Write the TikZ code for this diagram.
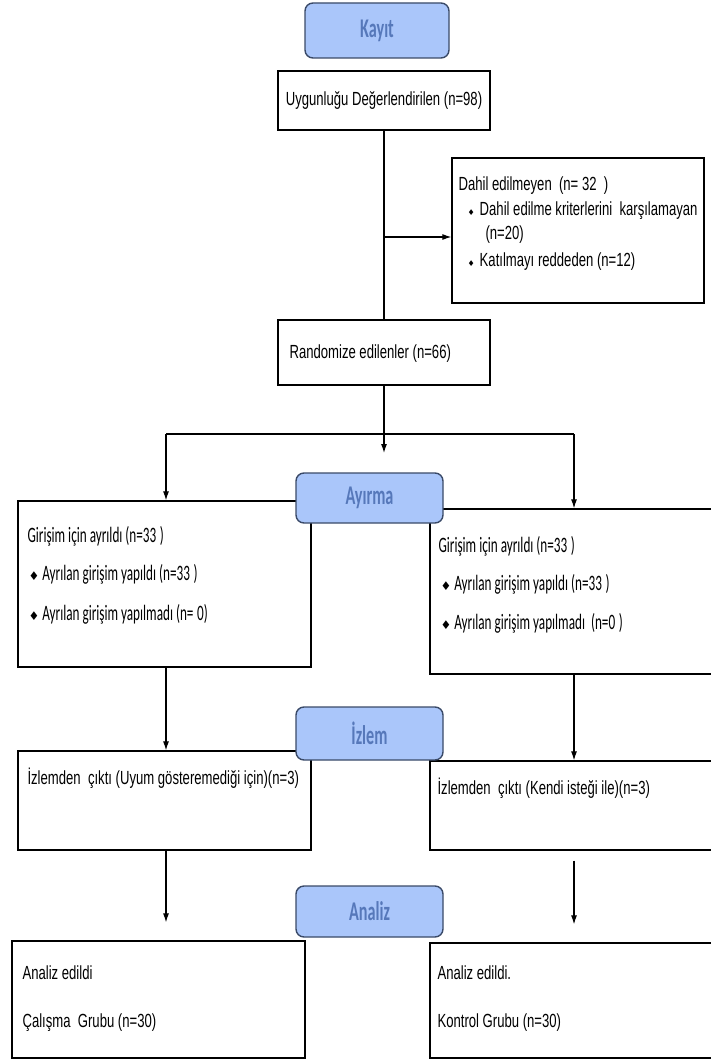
\documentclass[tikz,border=0pt]{standalone}
\usepackage{fontspec}
\setmainfont[FakeStretch=0.69]{Liberation Sans}
\newfontfamily\calfont[FakeStretch=0.6]{Carlito}
\newfontfamily\stagefont[FakeStretch=0.6]{Carlito}
\newfontfamily\symfont{DejaVu Sans}
\usetikzlibrary{arrows.meta}

\definecolor{stagefill}{RGB}{170,198,250}
\definecolor{stageline}{RGB}{58,74,104}
\definecolor{stagetext}{RGB}{86,120,186}

\newcommand\smbul{{\symfont\fontsize{8}{8}\selectfont ♦}\hspace{5pt}}
\newcommand\bigbul{{\symfont\fontsize{12}{12}\selectfont ♦}\hspace{3pt}}

\tikzset{
  box/.style={draw, line width=1.3pt, inner sep=0pt},
  stage/.style={draw=stageline, fill=stagefill, rounded corners=8pt, line width=1.4pt,
    text=stagetext, inner sep=0pt, font=\stagefont\bfseries\fontsize{27}{30}\selectfont},
  txt/.style={anchor=base west, inner sep=0pt, font=\fontsize{19}{22}\selectfont},
  ctxt/.style={anchor=base west, inner sep=0pt, font=\calfont\fontsize{22}{26}\selectfont}
}

\begin{document}
\begin{tikzpicture}[x=1pt, y=-1pt, >={Latex[length=9pt,width=6pt]}, line width=1.1pt]
\useasboundingbox (0,0) rectangle (710,1059);

% boxes
\node[box, minimum width=212, minimum height=59, font=\fontsize{19}{22}\selectfont] (uygun) at (384,100.5) {Uygunluğu Değerlendirilen (n=98)};
\node[box, minimum width=252, minimum height=145] (dahil) at (578,230.5) {};
\node[box, minimum width=212, minimum height=65] (random) at (384,352.5) {};
\node[box, minimum width=293, minimum height=166] (allocL) at (164.5,584) {};
\node[box, minimum width=284, minimum height=165] (allocR) at (572,591.5) {};
\node[box, minimum width=293, minimum height=99] (followL) at (164.5,800.5) {};
\node[box, minimum width=284, minimum height=89] (followR) at (572,805.5) {};
\node[box, minimum width=293, minimum height=117] (anaL) at (158.5,999.5) {};
\node[box, minimum width=284, minimum height=115] (anaR) at (572,1000.5) {};

% texts
\node[txt] at (458,191) {Dahil edilmeyen\ \ (n= 32\ \ )};
\node[txt] at (467,216) {\smbul Dahil edilme kriterlerini\ \ karşılamayan};
\node[txt] at (485,240) {(n=20)};
\node[txt] at (467,266) {\smbul Katılmayı\ reddeden (n=12)};
\node[txt] at (289,358) {Randomize edilenler (n=66)};

\node[ctxt] at (27,542) {Girişim için ayrıldı (n=33\,)};
\node[ctxt] at (28,580) {\bigbul Ayrılan girişim yapıldı (n=33\,)};
\node[ctxt] at (28,620) {\bigbul Ayrılan girişim yapılmadı (n=\,0)};
\node[ctxt] at (438,552) {Girişim için ayrıldı (n=33\,)};
\node[ctxt] at (440,590) {\bigbul Ayrılan girişim yapıldı (n=33\,)};
\node[ctxt] at (440,629) {\bigbul Ayrılan girişim yapılmadı\ \ (n=0\,)};

\node[txt] at (27,784) {İzlemden\ \ çıktı (Uyum gösteremediği için)(n=3)};
\node[txt] at (437,794) {İzlemden\ \ çıktı (Kendi isteği ile)(n=3)};

\node[txt] at (22,979) {Analiz edildi};
\node[txt] at (22,1027) {Çalışma\ \ Grubu (n=30)};
\node[txt] at (437,979) {Analiz edildi.};
\node[txt] at (437,1027) {Kontrol Grubu (n=30)};

% connectors
\coordinate (bend) at (384,237);
\coordinate (mid) at (384,453);
\coordinate (splitL) at (166,434);
\coordinate (splitR) at (574,434);
\draw (uygun) -- (random);
\draw[->] (bend) -- (bend -| dahil.west);
\draw[->] (random) -- (mid);
\draw (splitL) -- (splitR);
\draw[->] (splitL) -- (splitL |- allocL.north);
\draw[->] (splitR) -- (splitR |- allocR.north);
\draw[->] (splitL |- allocL.south) -- (splitL |- followL.north);
\draw[->] (splitR |- allocR.south) -- (splitR |- followR.north);
\draw[->, shorten >=18pt] (splitL |- followL.south) -- (splitL |- anaL.north);
\draw[->, shorten <=10pt, shorten >=18pt] (splitR |- followR.south) -- (splitR |- anaR.north);

% stages
\node[stage, minimum width=144, minimum height=55] (kayit) at (377,30.5) {Kayıt};
\node[stage, minimum width=147, minimum height=50] (ayirma) at (369.5,498) {Ayırma};
\node[stage, minimum width=147, minimum height=53] (izlem) at (369.5,733.5) {İzlem};
\node[stage, minimum width=147, minimum height=51] (analiz) at (369.5,911.5) {Analiz};
\end{tikzpicture}
\end{document}
